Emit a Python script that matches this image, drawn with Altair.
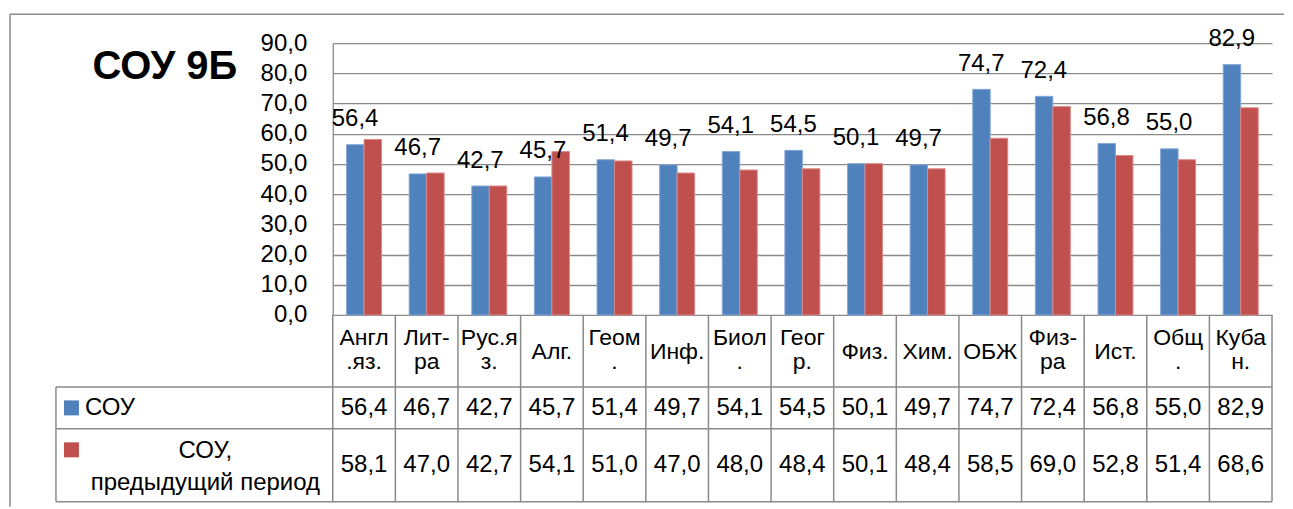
import altair as alt
import pandas as pd

# ---- data ----
categories = ["Англ\n.яз.", "Лит-\nра", "Рус.я\nз.", "Алг.", "Геом\n.", "Инф.", "Биол\n.",
              "Геог\nр.", "Физ.", "Хим.", "ОБЖ", "Физ-\nра", "Ист.", "Общ\n.", "Куба\nн."]
sou = [56.4, 46.7, 42.7, 45.7, 51.4, 49.7, 54.1, 54.5, 50.1, 49.7, 74.7, 72.4, 56.8, 55.0, 82.9]
prev = [58.1, 47.0, 42.7, 54.1, 51.0, 47.0, 48.0, 48.4, 50.1, 48.4, 58.5, 69.0, 52.8, 51.4, 68.6]
series = ["СОУ", "СОУ, предыдущий период"]
legend_labels = ["СОУ", "СОУ,\nпредыдущий период"]
colors = ["#4F81BD", "#C0504D"]
edge_colors = ["#86A8D6", "#D98A88"]
y_ticks = [0, 10, 20, 30, 40, 50, 60, 70, 80, 90]
chart_title = "СОУ 9Б"

FONT = "Liberation Sans"
FS = 24
GRID = "#8a8a8a"


def fmt(v):
    return f"{v:.1f}".replace(".", ",")


wide = pd.DataFrame({"cat": categories, "sou": sou, "prev": prev})
wide["sou_lbl"] = [fmt(v) for v in sou]
wide["prev_lbl"] = [fmt(v) for v in prev]
long = pd.concat([
    pd.DataFrame({"cat": categories, "series": series[0], "value": sou}),
    pd.DataFrame({"cat": categories, "series": series[1], "value": prev}),
], ignore_index=True)
one = pd.DataFrame({"k": [0]})

xscale = alt.Scale(domain=categories, paddingInner=0, paddingOuter=0)
X = alt.X("cat:N", sort=categories, scale=xscale, axis=None)
yscale = alt.Scale(domain=[0, 90], nice=False)


def y_axis():
    return alt.Axis(
        values=y_ticks, title=None, ticks=False, labelOverlap=False, labelFlush=False,
        labelExpr="replace(format(datum.value, '.1f'), '.', ',')",
        labelFont=FONT, labelFontSize=FS, labelColor="black", labelPadding=26,
        labelBaseline="middle",
        domain=True, domainColor=GRID, domainWidth=1.3,
        grid=True, gridColor=GRID, gridWidth=1.3)


bars = alt.Chart(long).mark_bar(strokeWidth=1).encode(
    x=X,
    xOffset=alt.XOffset("series:N", sort=series,
                        scale=alt.Scale(domain=series, paddingInner=0, paddingOuter=0.79)),
    y=alt.Y("value:Q", scale=yscale, axis=y_axis()),
    color=alt.Color("series:N", scale=alt.Scale(domain=series, range=colors), legend=None),
    stroke=alt.Stroke("series:N", scale=alt.Scale(domain=series, range=edge_colors), legend=None),
)

value_labels = alt.Chart(wide).mark_text(
    font=FONT, fontSize=FS, color="black", align="center", baseline="alphabetic", dx=-9, dy=-18.5
).encode(x=X, y=alt.Y("sou:Q", scale=yscale, axis=y_axis()), text="sou_lbl:N")

# ---- data table ----
header_multi = alt.Chart(wide).transform_filter(
    "indexof(datum.cat, '\\n') >= 0"
).mark_text(
    font=FONT, fontSize=23, color="black", align="center", baseline="middle",
    lineBreak="\n", lineHeight=24
).encode(x=X, y=alt.value(295), text="cat:N")

header_single = alt.Chart(wide).transform_filter(
    "indexof(datum.cat, '\\n') < 0"
).mark_text(
    font=FONT, fontSize=23, color="black", align="center", baseline="middle"
).encode(x=X, y=alt.value(309), text="cat:N")

row1 = alt.Chart(wide).mark_text(
    font=FONT, fontSize=FS, color="black", align="center", baseline="middle"
).encode(x=X, y=alt.value(365), text="sou_lbl:N")

row2 = alt.Chart(wide).mark_text(
    font=FONT, fontSize=FS, color="black", align="center", baseline="middle"
).encode(x=X, y=alt.value(422.5), text="prev_lbl:N")

vlines = alt.Chart(wide).mark_rule(color=GRID, strokeWidth=1.5).encode(
    x=alt.X("cat:N", sort=categories, scale=xscale, axis=None, bandPosition=0),
    y=alt.value(272), y2=alt.value(459))

rline = alt.Chart(one).mark_rule(color=GRID, strokeWidth=1.5).encode(
    x=alt.value(940), y=alt.value(272), y2=alt.value(459))
lline = alt.Chart(one).mark_rule(color=GRID, strokeWidth=1.5).encode(
    x=alt.value(-277), y=alt.value(344), y2=alt.value(459))
hlines = [
    alt.Chart(one).mark_rule(color=GRID, strokeWidth=1.5).encode(
        x=alt.value(-277), x2=alt.value(940), y=alt.value(yy))
    for yy in (344, 386, 459)
]

sq1 = alt.Chart(one).mark_square(size=225, opacity=1, color=colors[0]).encode(
    x=alt.value(-261.5), y=alt.value(365))
sq2 = alt.Chart(one).mark_square(size=225, opacity=1, color=colors[1]).encode(
    x=alt.value(-261.5), y=alt.value(407))
leg1 = alt.Chart(one).mark_text(
    font=FONT, fontSize=FS, color="black", align="left", baseline="middle", text=legend_labels[0]
).encode(x=alt.value(-248), y=alt.value(365))
leg2 = alt.Chart(one).mark_text(
    font=FONT, fontSize=FS, color="black", align="center", baseline="alphabetic",
    lineBreak="\n", lineHeight=32, text=legend_labels[1]
).encode(x=alt.value(-127.5), y=alt.value(415))

title = alt.Chart(one).mark_text(
    font=FONT, fontSize=40, fontWeight="bold", color="black", align="center",
    baseline="alphabetic", text=chart_title
).encode(x=alt.value(-168), y=alt.value(36))

frame_top = alt.Chart(one).mark_rule(color=GRID, strokeWidth=1.5).encode(
    x=alt.value(-323), x2=alt.value(952), y=alt.value(-29))
frame_left = alt.Chart(one).mark_rule(color=GRID, strokeWidth=1.5).encode(
    x=alt.value(-323), y=alt.value(-29), y2=alt.value(464))

chart = alt.layer(
    frame_top, frame_left, bars, value_labels, vlines, rline, lline, *hlines,
    header_multi, header_single, row1, row2, sq1, sq2, leg1, leg2, title
).properties(
    width=940, height=272,
    padding={"left": 1, "top": 5, "right": 0, "bottom": 0}
).configure_view(strokeWidth=0)

chart.save("out.html", embed_options={"renderer": "svg", "actions": False})
